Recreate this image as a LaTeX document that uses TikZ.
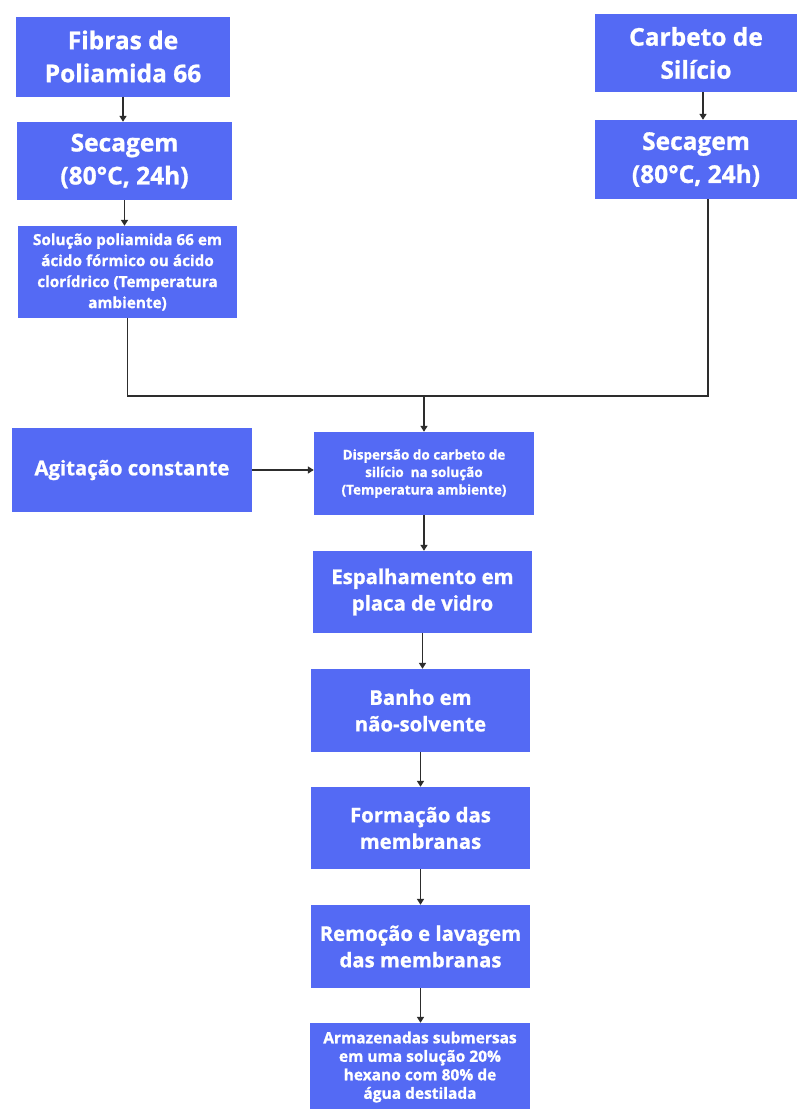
\documentclass[tikz,border=0pt]{standalone}
\usepackage{fontspec}
\setmainfont{Open Sans}[BoldFeatures={FakeBold=1}]
\usepackage{xcolor}
\usepackage{tikz}
\usetikzlibrary{positioning, arrows.meta, shapes}

\definecolor{boxblue}{RGB}{84,106,244}
\definecolor{linegray}{RGB}{45,45,45}

\begin{document}
\begin{tikzpicture}[x=1pt, y=-1pt,
    box/.style={fill=boxblue, text=white, align=center, inner sep=0pt, font=\bfseries},
    bigtext/.style={font=\bfseries\fontsize{24.5}{33}\selectfont},
    midtext/.style={font=\bfseries\fontsize{20.3}{26.5}\selectfont},
    smalltext/.style={font=\bfseries\fontsize{15.3}{21}\selectfont},
    tinytext/.style={font=\bfseries\fontsize{13.5}{17.5}\selectfont},
    bottomtext/.style={font=\bfseries\fontsize{15.5}{18.5}\selectfont},
    link/.style={draw=linegray, line width=1.7pt},
    arrow/.style={link, -{Triangle[length=6pt, width=7pt]}}]
    \useasboundingbox[fill=white] (0,0) rectangle (797,1109);

    % Left column
    \node (fibras) [box, bigtext, minimum width=214pt, minimum height=80pt] at (123,56.5) {Fibras de\\Poliamida 66};
    \node (secagemA) [box, bigtext, minimum width=215pt, minimum height=78pt] at (124.5,161) {Secagem\\(80°C, 24h)};
    \node (solucao) [box, smalltext, minimum width=219pt, minimum height=92pt] at (127.5,272) {Solução poliamida 66 em\\ácido fórmico ou ácido\\clorídrico (Temperatura\\ambiente)};

    % Right column
    \node (carbeto) [box, bigtext, minimum width=202pt, minimum height=78pt] at (696,53) {Carbeto de\\Silício};
    \node (secagemB) [box, bigtext, minimum width=202pt, minimum height=79pt] at (696,159.5) {Secagem\\(80°C, 24h)};

    % Middle column
    \node (agitacao) [box, midtext, minimum width=240pt, minimum height=84pt] at (132,470) {Agitação constante};
    \node (dispersao) [box, tinytext, minimum width=220pt, minimum height=83pt] at (424,473.5) {Dispersão do carbeto de\\silício\ \ na solução\\(Temperatura ambiente)};
    \node (espalhamento) [box, midtext, minimum width=219pt, minimum height=82pt] at (422.5,592) {Espalhamento em\\placa de vidro};
    \node (banho) [box, midtext, minimum width=219pt, minimum height=83pt] at (420.5,710.5) {Banho em\\não-solvente};
    \node (formacao) [box, midtext, minimum width=219pt, minimum height=82pt] at (420.5,828) {Formação das\\membranas};
    \node (remocao) [box, midtext, minimum width=219pt, minimum height=83pt] at (420.5,946.5) {Remoção e lavagem\\das membranas};
    \node (armazenadas) [box, bottomtext, minimum width=220pt, minimum height=88pt] at (420,1067) {Armazenadas submersas\\em uma solução 20\%\\hexano com 80\% de\\água destilada};

    % Joining point
    \coordinate (rjoin) at (708,396);
    \coordinate (merge) at (dispersao.north |- rjoin);

    % Edges
    \draw[arrow] (fibras.south) -- (fibras.south |- secagemA.north);
    \draw[arrow] (secagemA.south) -- (secagemA.south |- solucao.north);
    \draw[arrow] ([xshift=7pt]carbeto.south) -- ([xshift=7pt]secagemB.north);
    \draw[link] (solucao.south) |- (rjoin) -- (secagemB.south -| rjoin);
    \draw[arrow] (merge) -- (dispersao.north);
    \draw[arrow] (agitacao.east) -- (agitacao.east -| dispersao.west);
    \draw[arrow] (dispersao.south) -- (dispersao.south |- espalhamento.north);
    \draw[arrow] (espalhamento.south) -- (espalhamento.south |- banho.north);
    \draw[arrow] (banho.south) -- (banho.south |- formacao.north);
    \draw[arrow] (formacao.south) -- (formacao.south |- remocao.north);
    \draw[arrow] (remocao.south) -- (remocao.south |- armazenadas.north);
\end{tikzpicture}
\end{document}
